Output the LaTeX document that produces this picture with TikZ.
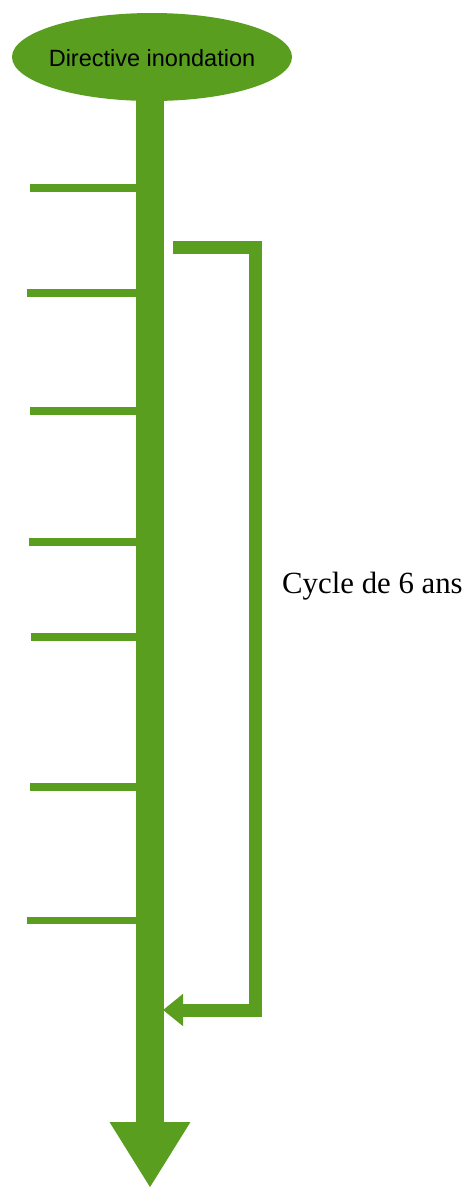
\documentclass[tikz,border=0pt]{standalone}
\usepackage{fontspec}
\setmainfont{Liberation Serif}
\newfontfamily\labelsans{Liberation Sans}
\usetikzlibrary{shapes.geometric,arrows.meta}
\definecolor{leaf}{RGB}{89,158,31}
\tikzset{
  headnode/.style={ellipse, fill=leaf, draw=none, minimum width=280pt,
    minimum height=88pt, inner sep=0pt},
  headtext/.style={text=black, inner sep=0pt,
    font=\labelsans\fontsize{23.5}{28}\selectfont},
  tick/.style={draw=leaf, line width=7.4pt, line cap=butt},
  shaft/.style={draw=leaf, line width=28.5pt,
    -{Triangle[length=66pt,width=76pt]}},
  cycle/.style={draw=leaf, line width=13pt, line join=miter, line cap=butt,
    -{Triangle[length=20pt,width=31pt]}},
  cyclelabel/.style={font=\fontsize{30.8}{36}\selectfont, anchor=west, inner sep=0pt}
}
\begin{document}
\begin{tikzpicture}[x=1pt,y=-1pt]
  \useasboundingbox (0,0) rectangle (470,1189);

  % timeline spine
  \coordinate (s0) at (150,100);
  \coordinate (s1) at (150,1188);

  % milestones along the timeline
  \coordinate (t1) at (30,188);
  \coordinate (t2) at (27,293);
  \coordinate (t3) at (30,411);
  \coordinate (t4) at (29,542);
  \coordinate (t5) at (31,637);
  \coordinate (t6) at (30,787);
  \coordinate (t7) at (27,920.5);
  \foreach \t in {t1,t2,t3,t4,t5,t6,t7}
    \draw[tick] (\t) -- (\t -| s0);

  \draw[shaft] (s0) -- (s1);

  \node[headnode] (top) at (152,57) {};
  \node[headtext] (title) at ([yshift=-1.5pt]top.center) {Directive inondation};

  % six-year review loop
  \coordinate (c0) at (173,247.5);
  \coordinate (c1) at (255.5,247.5);
  \coordinate (c2) at (255.5,1010);
  \coordinate (c3) at (163,1010);
  \draw[cycle] (c0) -- (c1) -- (c2) -- (c3);

  \node[cyclelabel] (lbl) at (282,586) {Cycle de 6 ans};
\end{tikzpicture}
\end{document}
